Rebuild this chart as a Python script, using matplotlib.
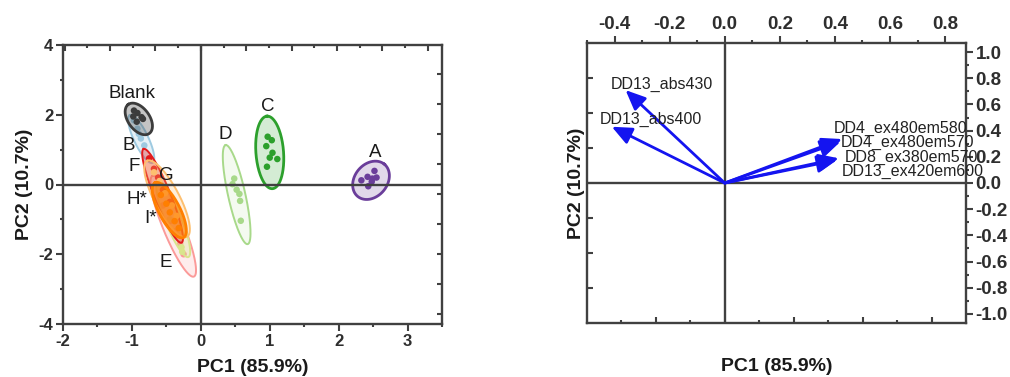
import numpy as np
import matplotlib
matplotlib.use("Agg")
import matplotlib.pyplot as plt
from matplotlib.ticker import MultipleLocator, NullFormatter, FixedLocator, FuncFormatter

plt.rcParams['font.family'] = ['Liberation Sans', 'DejaVu Sans']
plt.rcParams['axes.unicode_minus'] = False

# ---------------- data: PCA scores (left panel) ----------------
groups = ['E', 'I*', 'B', 'F', 'G', 'H*', 'Blank', 'D', 'C', 'A']

A_pc1 = [2.52, 2.42, 2.55, 2.33, 2.48, 2.43, 2.49]
A_pc2 = [0.39, 0.22, 0.20, 0.12, 0.08, -0.05, 0.17]
B_pc1 = [-0.97, -0.92, -0.87, -0.82, -0.90]
B_pc2 = [1.84, 1.60, 1.32, 1.12, 1.45]
C_pc1 = [0.97, 1.03, 0.95, 1.04, 1.00, 1.11, 0.96]
C_pc2 = [1.37, 1.27, 1.10, 0.91, 0.77, 0.73, 0.51]
D_pc1 = [0.485, 0.46, 0.52, 0.56, 0.57, 0.58]
D_pc2 = [0.17, 0.01, -0.15, -0.27, -0.47, -1.04]
E_pc1 = [-0.55, -0.45, -0.38, -0.30, -0.25]
E_pc2 = [-0.60, -1.05, -1.35, -1.70, -2.00]
F_pc1 = [-0.75, -0.68, -0.62, -0.55, -0.45]
F_pc2 = [0.75, 0.45, 0.20, -0.15, -0.50]
G_pc1 = [-0.68, -0.60, -0.52, -0.42, -0.35]
G_pc2 = [0.35, 0.10, -0.25, -0.60, -0.90]
H_pc1 = [-0.58, -0.50, -0.45, -0.38, -0.32]
H_pc2 = [-0.30, -0.55, -0.80, -1.05, -1.25]
I_pc1 = [-0.45, -0.35, -0.28, -0.27]
I_pc2 = [-1.00, -1.45, -1.80, -1.93]
Blank_pc1 = [-0.97, -0.92, -0.84, -0.93, -0.98, -0.86]
Blank_pc2 = [2.12, 2.05, 1.88, 1.80, 1.95, 1.93]

scores = {
    'A': (A_pc1, A_pc2), 'B': (B_pc1, B_pc2), 'C': (C_pc1, C_pc2),
    'D': (D_pc1, D_pc2), 'E': (E_pc1, E_pc2), 'F': (F_pc1, F_pc2),
    'G': (G_pc1, G_pc2), 'H*': (H_pc1, H_pc2), 'I*': (I_pc1, I_pc2),
    'Blank': (Blank_pc1, Blank_pc2),
}

# confidence ellipses: ends of the major axis (data units) and minor/major ratio
ell_top = {'A': (2.665, 0.58), 'B': (-1.03, 1.99), 'C': (0.96, 1.96),
           'D': (0.36, 1.13), 'E': (-0.70, 0.25), 'F': (-0.83, 1.02),
           'G': (-0.78, 0.68), 'H*': (-0.665, 0.05), 'I*': (-0.62, 0.10),
           'Blank': (-1.053, 2.296)}
ell_bottom = {'A': (2.275, -0.34), 'B': (-0.70, 0.62), 'C': (1.04, -0.12),
              'D': (0.68, -1.71), 'E': (-0.10, -2.64), 'F': (-0.28, -1.67),
              'G': (-0.20, -1.50), 'H*': (-0.25, -1.52), 'I*': (-0.18, -2.08),
              'Blank': (-0.747, 1.464)}
ell_ratio = {'A': 0.78, 'B': 0.27, 'C': 0.38, 'D': 0.17, 'E': 0.19,
             'F': 0.16, 'G': 0.29, 'H*': 0.34, 'I*': 0.2, 'Blank': 0.6}

colors = {'A': '#6a3d9a', 'B': '#9ecae1', 'C': '#2ca02c', 'D': '#a8d98a',
          'E': '#fb9a99', 'F': '#e31a1c', 'G': '#fdbf6f', 'H*': '#ff7f00',
          'I*': '#d9e58c', 'Blank': '#3c3c3c'}
fill_alpha = {'A': 0.2, 'B': 0.25, 'C': 0.2, 'D': 0.12, 'E': 0.18,
              'F': 0.35, 'G': 0.25, 'H*': 0.6, 'I*': 0.3, 'Blank': 0.3}

label_pos = {'Blank': (-1.0, 2.61), 'C': (0.97, 2.25), 'D': (0.35, 1.42),
             'A': (2.53, 0.91), 'B': (-1.05, 1.13), 'F': (-0.97, 0.51),
             'G': (-0.50, 0.27), 'H*': (-0.92, -0.43), 'I*': (-0.73, -0.98),
             'E': (-0.51, -2.24)}

# ---------------- data: loadings (right panel) ----------------
var_names = ['DD13_abs430', 'DD13_abs400', 'DD4_ex480em580',
             'DD4_ex480em570', 'DD8_ex380em570', 'DD13_ex420em600']
load_pc1 = [-0.36, -0.41, 0.426, 0.42, 0.414, 0.408]
load_pc2 = [0.71, 0.43, 0.336, 0.315, 0.189, 0.176]
name_pos = [(-0.413, 0.753), (-0.452, 0.488), (0.396, 0.42),
            (0.42, 0.31), (0.435, 0.193), (0.426, 0.09)]

xlab = 'PC1 (85.9%)'
ylab = 'PC2 (10.7%)'

# ---------------- figure ----------------
W, H = 1010, 377
fig = plt.figure(figsize=(W / 100, H / 100), dpi=100)
spc = '#404040'
tcol = '#2e2e2e'

axL = fig.add_axes([63 / W, 1 - 324 / H, 379 / W, 279 / H])
axL.set_xlim(-2, 3.5)
axL.set_ylim(-4, 4)
sx = 379 / 5.5
sy = 279 / 8.0


def ellipse_xy(top, bottom, ratio, n=240):
    top = np.asarray(top, float)
    bottom = np.asarray(bottom, float)
    c = (top + bottom) / 2
    a = (top - bottom) / 2
    apx = np.array([a[0] * sx, a[1] * sy])
    bpx = ratio * np.array([-apx[1], apx[0]])
    b = np.array([bpx[0] / sx, bpx[1] / sy])
    t = np.linspace(0, 2 * np.pi, n)
    x = c[0] + a[0] * np.cos(t) + b[0] * np.sin(t)
    y = c[1] + a[1] * np.cos(t) + b[1] * np.sin(t)
    return x, y


for i, g in enumerate(groups):
    ex, ey = ellipse_xy(ell_top[g], ell_bottom[g], ell_ratio[g])
    col = colors[g]
    axL.fill(ex, ey, color=col, alpha=fill_alpha[g], lw=0, zorder=2 + i * 0.1)
    lw = 2.0 if g in ('H*', 'C', 'A', 'Blank') else 1.4
    axL.plot(ex, ey, color=col, lw=lw, zorder=2.05 + i * 0.1)
    px, py = scores[g]
    axL.scatter(px, py, s=22, color=col, edgecolors='none', zorder=2.07 + i * 0.1)

axL.axhline(0, color=spc, lw=1.7, zorder=4)
axL.axvline(0, color=spc, lw=1.7, zorder=4)

for g, (x, y) in label_pos.items():
    axL.text(x, y, g, fontsize=13.5, color='#1a1a1a', ha='center', va='center', zorder=6)

axL.xaxis.set_major_locator(MultipleLocator(1))
axL.xaxis.set_minor_locator(MultipleLocator(0.5))
axL.yaxis.set_major_locator(MultipleLocator(2))
axL.yaxis.set_minor_locator(MultipleLocator(1))
axL.tick_params(which='both', direction='out', color=spc, width=1.5,
                labelsize=12, labelcolor=tcol, pad=2)
axL.tick_params(which='major', length=5)
axL.tick_params(which='minor', length=2.5)
for lab in axL.get_xticklabels() + axL.get_yticklabels():
    lab.set_fontweight('bold')
for s in axL.spines.values():
    s.set_color(spc)
    s.set_linewidth(1.7)
axL.set_xlabel(xlab, fontsize=14, fontweight='bold', color='#1a1a1a')
axL.set_ylabel(ylab, fontsize=14, fontweight='bold', color='#1a1a1a')
axL.xaxis.set_label_coords(0.5, -0.125)
axL.yaxis.set_label_coords(-0.08, 0.5)

# inward ticks on top/right of the score plot (loading scale)
axT = axL.twiny()
axT.set_xlim(axL.get_xlim())
step_t = 22.7 / sx
kt = np.arange(-6, 12)
axT.xaxis.set_major_locator(FixedLocator([k * step_t for k in kt if k % 2 == 0]))
axT.xaxis.set_minor_locator(FixedLocator([k * step_t for k in kt if k % 2 != 0]))
axT.tick_params(which='both', direction='in', color=spc, width=1.5, labeltop=False)
axT.tick_params(which='major', length=4)
axT.tick_params(which='minor', length=2.5)
axT.xaxis.set_major_formatter(NullFormatter())
for s in axT.spines.values():
    s.set_visible(False)

axRt = axL.twinx()
axRt.set_ylim(axL.get_ylim())
step_r = 30.0 / sy
kr = np.arange(-4, 6)
axRt.yaxis.set_major_locator(FixedLocator([-0.28 + k * step_r for k in kr]))
axRt.tick_params(which='both', direction='in', color=spc, width=1.5, length=3.5, labelright=False)
axRt.yaxis.set_major_formatter(NullFormatter())
for s in axRt.spines.values():
    s.set_visible(False)

# ---------------- right panel: loadings ----------------
rect = [587 / W, 1 - 323 / H, 379 / W, 280 / H]
axR = fig.add_axes(rect)
axR.set_xlim(-0.5, 0.876)
axR.set_ylim(-1.07, 1.07)
axR.xaxis.tick_top()
axR.yaxis.tick_right()
axR.xaxis.set_major_locator(MultipleLocator(0.2))
axR.xaxis.set_minor_locator(MultipleLocator(0.1))
axR.yaxis.set_major_locator(MultipleLocator(0.2))
axR.yaxis.set_minor_locator(MultipleLocator(0.1))
fmt = FuncFormatter(lambda v, p: f'{v:.1f}'.replace('-0.0', '0.0'))
axR.xaxis.set_major_formatter(fmt)
axR.yaxis.set_major_formatter(fmt)
axR.tick_params(which='both', direction='out', color=spc, width=1.5,
                labelsize=13.5, labelcolor=tcol, pad=2)
axR.tick_params(which='major', length=5)
axR.tick_params(which='minor', length=2.5)
for lab in axR.get_xticklabels() + axR.get_yticklabels():
    lab.set_fontweight('bold')
for s in axR.spines.values():
    s.set_color(spc)
    s.set_linewidth(1.7)

axR.axhline(0, color=spc, lw=1.7, zorder=1)
axR.axvline(0, color=spc, lw=1.7, zorder=1)

for x, y in zip(load_pc1, load_pc2):
    axR.annotate('', xy=(x, y), xytext=(0, 0),
                 arrowprops=dict(arrowstyle='-|>,head_length=0.8,head_width=0.35',
                                 color='#1414f0', lw=2.0, shrinkA=0, shrinkB=0,
                                 mutation_scale=15), zorder=3)
for name, (x, y) in zip(var_names, name_pos):
    axR.text(x, y, name, fontsize=11.5, color='#222222', ha='left', va='center',
             zorder=4, clip_on=False)

# score-scale ticks (bottom/left, inward, no labels)
axS = fig.add_axes(rect, frameon=False)
axS.set_xlim(-2, 3.5)
axS.set_ylim(-4, 4)
axS.patch.set_visible(False)
axS.xaxis.set_major_locator(FixedLocator([-1, 1, 2, 3]))
axS.xaxis.set_minor_locator(FixedLocator([-1.5, -0.5, 0.5, 1.5, 2.5]))
axS.yaxis.set_major_locator(FixedLocator([-3, -2, -1, 1, 2, 3]))
axS.xaxis.set_major_formatter(NullFormatter())
axS.yaxis.set_major_formatter(NullFormatter())
axS.tick_params(which='both', direction='in', color=spc, width=1.5)
axS.tick_params(which='major', length=4)
axS.tick_params(which='minor', length=2.5)
axS.set_xlabel(xlab, fontsize=14, fontweight='bold', color='#1a1a1a')
axS.set_ylabel(ylab, fontsize=14, fontweight='bold', color='#1a1a1a')
axS.xaxis.set_label_coords(0.5, -0.125)
axS.yaxis.set_label_coords(-0.006, 0.5)

fig.savefig('out.png', dpi=100)
